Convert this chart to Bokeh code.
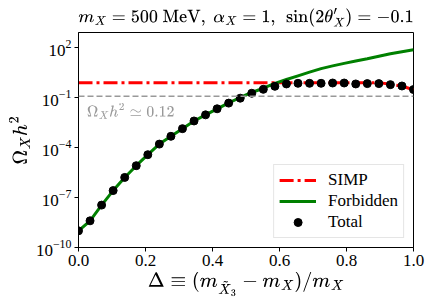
import numpy as np
from bokeh.plotting import figure
from bokeh.models import (Range1d, FixedTicker, Span, Label, Legend, LegendItem,
                          PrintfTickFormatter)
from bokeh.embed import file_html
from bokeh.resources import INLINE

# mass splitting grid
delta = np.linspace(0.0, 1.0, 30)

# relic abundance Omega_X h^2 along the grid
omega_total = [1.0e-9, 4.0e-9, 3.5e-8, 2.6e-7, 1.6e-6, 8.1e-6, 3.7e-5, 1.6e-4,
               4.7e-4, 1.35e-3, 3.9e-3, 9.1e-3, 2.1e-2, 4.6e-2, 9.1e-2, 0.18,
               0.31, 0.47, 0.65, 0.71, 0.71, 0.71, 0.74, 0.74, 0.65, 0.68,
               0.68, 0.59, 0.49, 0.30]
omega_forbidden = [1.0e-9, 4.0e-9, 3.5e-8, 2.6e-7, 1.6e-6, 8.1e-6, 3.7e-5, 1.6e-4,
                   4.7e-4, 1.35e-3, 3.9e-3, 9.1e-3, 2.1e-2, 4.8e-2, 0.10, 0.20,
                   0.36, 0.71, 1.2, 2.0, 3.3, 5.4, 7.9, 11.2, 15.5, 21.0,
                   30.0, 42.0, 56.0, 74.0]
omega_simp = [0.78] * 27 + [0.62, 0.48, 0.29]
omega_obs = 0.12

x_ticks = [0.0, 0.2, 0.4, 0.6, 0.8, 1.0]
y_ticks = [1e-10, 1e-7, 1e-4, 1e-1, 1e2]

SERIF = "serif"

p = figure(width=430, height=306, output_backend="svg", toolbar_location=None,
           x_range=Range1d(0.0, 1.0), y_range=Range1d(1e-10, 10 ** 2.9),
           y_axis_type="log",
           title=r"$$m_X = 500~\mathrm{MeV},~\alpha_X = 1,~\sin(2\theta'_X) = -0.1$$",
           min_border_left=78, min_border_right=17,
           min_border_top=31, min_border_bottom=59)

p.title.align = "center"
p.title.text_font_size = "17.6px"
p.title.text_font_style = "normal"
p.title.text_color = "black"
p.title.text_font = SERIF

p.grid.visible = False
p.outline_line_color = "black"
p.outline_line_width = 1

for ax in (p.xaxis[0], p.yaxis[0]):
    ax.major_tick_out = 4
    ax.major_tick_in = 0
    ax.minor_tick_line_color = None
    ax.axis_line_color = "black"
    ax.major_tick_line_color = "black"
    ax.major_label_text_font = SERIF
    ax.major_label_text_color = "black"
    ax.major_label_text_font_size = "17px"
    ax.major_label_standoff = 3
    ax.axis_label_text_font_size = "17px"
    ax.axis_label_text_color = "black"
    ax.axis_label_text_font_style = "normal"
    ax.axis_label_standoff = 3

p.xaxis.ticker = FixedTicker(ticks=x_ticks, minor_ticks=[])
p.xaxis.formatter = PrintfTickFormatter(format="%.1f")
p.yaxis.ticker = FixedTicker(ticks=y_ticks, minor_ticks=[])

p.xaxis.axis_label = r"$$\Delta \equiv (m_{\tilde{X}_3} - m_X)/m_X$$"
p.yaxis.axis_label = r"$$\Omega_X h^2$$"

# observed abundance
p.add_layout(Span(location=omega_obs, dimension="width", line_color="#999999",
                  line_dash="6 3", line_width=1.5))
p.add_layout(Label(x=0.025, y=0.05, text=r"$$\Omega_X h^2 \simeq 0.12$$",
                   text_color="#999999", text_font_size="12.5px",
                   text_baseline="top"))

r_simp = p.line(delta, omega_simp, line_color="red", line_width=3,
                line_dash="14 4 3 4")
r_forb = p.line(delta, omega_forbidden, line_color="green", line_width=3)
r_tot = p.scatter(delta, omega_total, size=8, color="black")

legend = Legend(items=[LegendItem(label="SIMP", renderers=[r_simp]),
                       LegendItem(label="Forbidden", renderers=[r_forb]),
                       LegendItem(label="Total", renderers=[r_tot])],
                location="bottom_right", margin=9, padding=5, spacing=1,
                glyph_width=37, glyph_height=20, label_height=20,
                label_standoff=12,
                label_text_font=SERIF, label_text_font_size="17px",
                label_text_color="black",
                border_line_color="#cccccc", border_line_width=1,
                background_fill_alpha=0.8)
p.add_layout(legend, "center")

open("out.html", "w").write(file_html(p, INLINE))
